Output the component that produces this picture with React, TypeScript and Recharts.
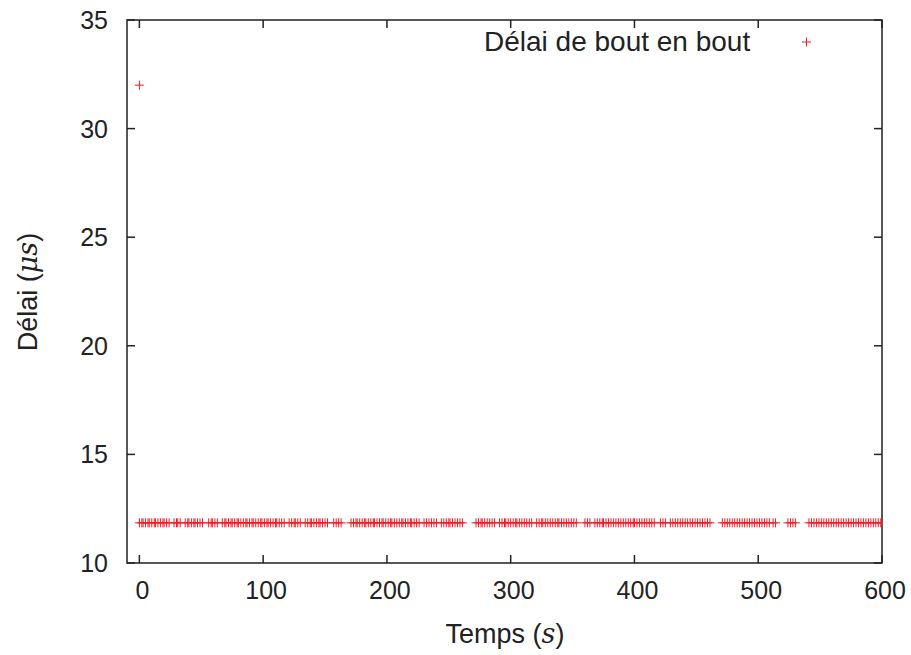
import { Label, ReferenceArea, Scatter, ScatterChart, XAxis, YAxis } from "recharts";

// temps (s) des mesures
const times = [
  0, 2, 3, 5, 7, 8, 10, 12, 13, 15, 17, 19, 20, 22, 24,
  28, 30, 31, 33, 37, 39, 40, 42, 44, 45, 47, 49, 51,
  56, 58, 59, 61, 63, 67, 69, 70, 72, 74, 75, 77, 79, 80, 82, 84, 86, 87, 89,
  91, 92, 94, 96, 98, 99, 101, 103, 104, 106, 108, 110, 111, 113, 115, 117,
  121, 123, 125, 126, 128, 130, 134, 136, 138, 139, 141, 143, 145, 146, 148,
  150, 152, 157, 159, 161, 163, 171, 173, 175, 176, 178, 180, 182, 183, 185,
  187, 189, 190, 192, 194, 196, 197, 199, 201, 203, 204, 206, 208, 210, 212,
  213, 215, 217, 219, 220, 222, 224, 226, 230, 232, 234, 236, 238, 240, 244,
  246, 248, 250, 251, 253, 255, 257, 259, 261, 272, 274, 276, 277, 279, 281,
  283, 285, 287, 291, 293, 295, 296, 298, 300, 302, 304, 305, 307, 309, 311,
  313, 315, 317, 321, 323, 325, 326, 328, 330, 332, 334, 336, 338, 339, 341,
  343, 345, 347, 349, 351, 353, 360, 362, 364, 368, 370, 372, 374, 375, 377,
  379, 381, 383, 385, 387, 389, 391, 393, 395, 397, 399, 400, 402, 404, 406,
  408, 410, 412, 414, 416, 421, 423, 425, 429, 431, 433, 435, 437, 439, 441,
  443, 445, 447, 449, 451, 453, 455, 457, 459, 461, 471, 473, 475, 477, 479,
  481, 483, 485, 487, 489, 491, 493, 495, 497, 499, 501, 503, 505, 507, 509,
  512, 514, 524, 526, 528, 530, 541, 543, 545, 547, 549, 551, 553, 555, 557,
  559, 561, 563, 565, 567, 569, 571, 573, 575, 577, 579, 581, 583, 585, 587,
  589, 591, 593, 595, 597, 599, 600,
];
// délai mesuré en régime établi (µs)
const steadyDelay = 11.85;
// premier paquet
const firstTime = [0];
const firstDelay = [32];

const xTicks = [0, 100, 200, 300, 400, 500, 600];
const yTicks = [10, 15, 20, 25, 30, 35];
const xDomain = [-10, 600];
const yDomain = [10, 35];

const RED = "#f01c24";
const INK = "#222";
const FONT = "'Liberation Sans', Arial, sans-serif";
const PLOT = { left: 127, right: 882, top: 20, bottom: 563 };

const data = [
  ...firstTime.map((t, i) => ({ t, d: firstDelay[i] })),
  ...times.map((t) => ({ t, d: steadyDelay })),
];

function PlusShape(props: any) {
  const { cx, cy } = props;
  if (cx == null || cy == null) return null;
  return (
    <g stroke={RED} strokeWidth={1}>
      <line x1={cx - 4.5} x2={cx + 4.5} y1={cy} y2={cy} />
      <line x1={cx} x2={cx} y1={cy - 4.5} y2={cy + 4.5} />
    </g>
  );
}

function XTick(props: any) {
  const { x, payload } = props;
  return (
    <g>
      <line x1={x} x2={x} y1={PLOT.bottom} y2={PLOT.bottom - 8} stroke={INK} strokeWidth={1.5} />
      <line x1={x} x2={x} y1={PLOT.top} y2={PLOT.top + 8} stroke={INK} strokeWidth={1.5} />
      <text x={x + 3} y={599} textAnchor="middle" fontFamily={FONT} fontSize={25} fill={INK}>
        {payload.value}
      </text>
    </g>
  );
}

function YTick(props: any) {
  const { y, payload } = props;
  return (
    <g>
      <line x1={PLOT.left} x2={PLOT.left + 8} y1={y} y2={y} stroke={INK} strokeWidth={1.5} />
      <line x1={PLOT.right} x2={PLOT.right - 8} y1={y} y2={y} stroke={INK} strokeWidth={1.5} />
      <text x={108} y={y + 9} textAnchor="end" fontFamily={FONT} fontSize={25} fill={INK}>
        {payload.value}
      </text>
    </g>
  );
}

function LegendBox() {
  return (
    <div
      style={{
        position: "absolute",
        left: 484,
        top: 26,
        display: "flex",
        alignItems: "center",
        fontFamily: FONT,
        fontSize: 28,
        color: INK,
        pointerEvents: "none",
      }}
    >
      <span>Délai de bout en bout</span>
      <svg width={60} height={20} style={{ marginLeft: 22 }}>
        <g stroke={RED} strokeWidth={1}>
          <line x1={30} x2={39} y1={10} y2={10} />
          <line x1={34.5} x2={34.5} y1={5.5} y2={14.5} />
        </g>
      </svg>
    </div>
  );
}

export default function App() {
  return (
    <div style={{ position: "absolute", left: 0, top: 0, width: 911, height: 655, background: "#fff" }}>
      <ScatterChart width={911} height={655} margin={{ top: 20, right: 29, bottom: 42, left: 47 }}>
        <XAxis
          type="number"
          dataKey="t"
          domain={xDomain}
          ticks={xTicks}
          allowDataOverflow
          height={50}
          axisLine={false}
          tickLine={false}
          tick={<XTick />}
        >
          <Label
            content={() => (
              <text x={505} y={643} textAnchor="middle" fontFamily={FONT} fontSize={27} fill={INK}>
                Temps (<tspan fontFamily="'DejaVu Serif', serif" fontStyle="italic">s</tspan>)
              </text>
            )}
          />
        </XAxis>
        <YAxis
          type="number"
          dataKey="d"
          domain={yDomain}
          ticks={yTicks}
          allowDataOverflow
          width={80}
          axisLine={false}
          tickLine={false}
          tick={<YTick />}
        >
          <Label
            content={() => (
              <text
                x={37}
                y={292}
                transform="rotate(-90 37 292)"
                textAnchor="middle"
                fontFamily={FONT}
                fontSize={27}
                fill={INK}
              >
                Délai (<tspan fontFamily="'DejaVu Serif', serif" fontStyle="italic">μs</tspan>)
              </text>
            )}
          />
        </YAxis>
        <ReferenceArea
          x1={xDomain[0]}
          x2={xDomain[1]}
          y1={yDomain[0]}
          y2={yDomain[1]}
          fill="none"
          fillOpacity={0}
          stroke={INK}
          strokeWidth={1.5}
        />
        <Scatter
          name="Délai de bout en bout"
          data={data}
          fill={RED}
          shape={<PlusShape />}
          isAnimationActive={false}
        />
      </ScatterChart>
      <LegendBox />
    </div>
  );
}
